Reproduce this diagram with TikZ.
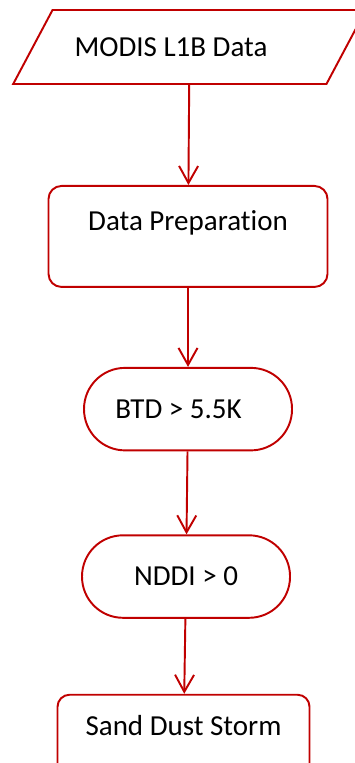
\documentclass[tikz,border=0pt]{standalone}
\usepackage{fontspec}
\setmainfont{Carlito}[Ligatures=NoCommon]
\usepackage{xcolor}
\usepackage{tikz}
\usetikzlibrary{shapes.geometric, arrows.meta, positioning}
\definecolor{flowred}{RGB}{192,0,0}
\tikzstyle{io} = [trapezium, trapezium left angle=62, trapezium right angle=118, draw=flowred, line width=1.1pt, inner xsep=0.44cm, inner ysep=0pt, text height=0.927cm, text depth=0.553cm]
\tikzstyle{process} = [rectangle, draw=flowred, line width=1.1pt, rounded corners=0.26cm, minimum width=5.58cm, minimum height=2.02cm, text height=0.4cm, text depth=0.63cm]
\tikzstyle{test} = [rectangle, draw=flowred, line width=1.1pt, rounded corners=0.82cm, minimum width=4.16cm, minimum height=1.65cm]
\tikzstyle{result} = [rectangle, draw=flowred, line width=1.1pt, rounded corners=0.24cm, minimum width=5.04cm, minimum height=1.88cm, text height=0.4cm, text depth=0.63cm]
\tikzstyle{arrow} = [-{Straight Barb[length=0.34cm, width=0.38cm]}, draw=flowred, line width=1.1pt]

\begin{document}
\begin{tikzpicture}[every node/.style={font=\fontsize{16.5pt}{19pt}\selectfont}]
\useasboundingbox (0,0) rectangle (7.1,-15.26);
\clip (0,0) rectangle (7.1,-15.26);

% Input and preparation
\node[io] (input) at (3.79,-0.94) {MODIS L1B Data\hspace*{0.74cm}};
\node[process, below=2.0cm of input, xshift=-0.03cm] (prep) {Data Preparation};

% Threshold tests
\node[test, below=1.58cm of prep] (btd) {BTD > 5.5K\hspace*{0.38cm}};
\node[test, below=1.66cm of btd, xshift=-0.04cm] (nddi) {NDDI > 0};

% Output
\node[result, below=1.5cm of nddi, xshift=-0.05cm] (storm) {Sand Dust Storm};

% Flow arrows
\draw[arrow] (input) -- (prep);
\draw[arrow] (prep) -- (btd);
\draw[arrow] (btd) -- (nddi);
\draw[arrow] (nddi) -- (storm);

\end{tikzpicture}
\end{document}
